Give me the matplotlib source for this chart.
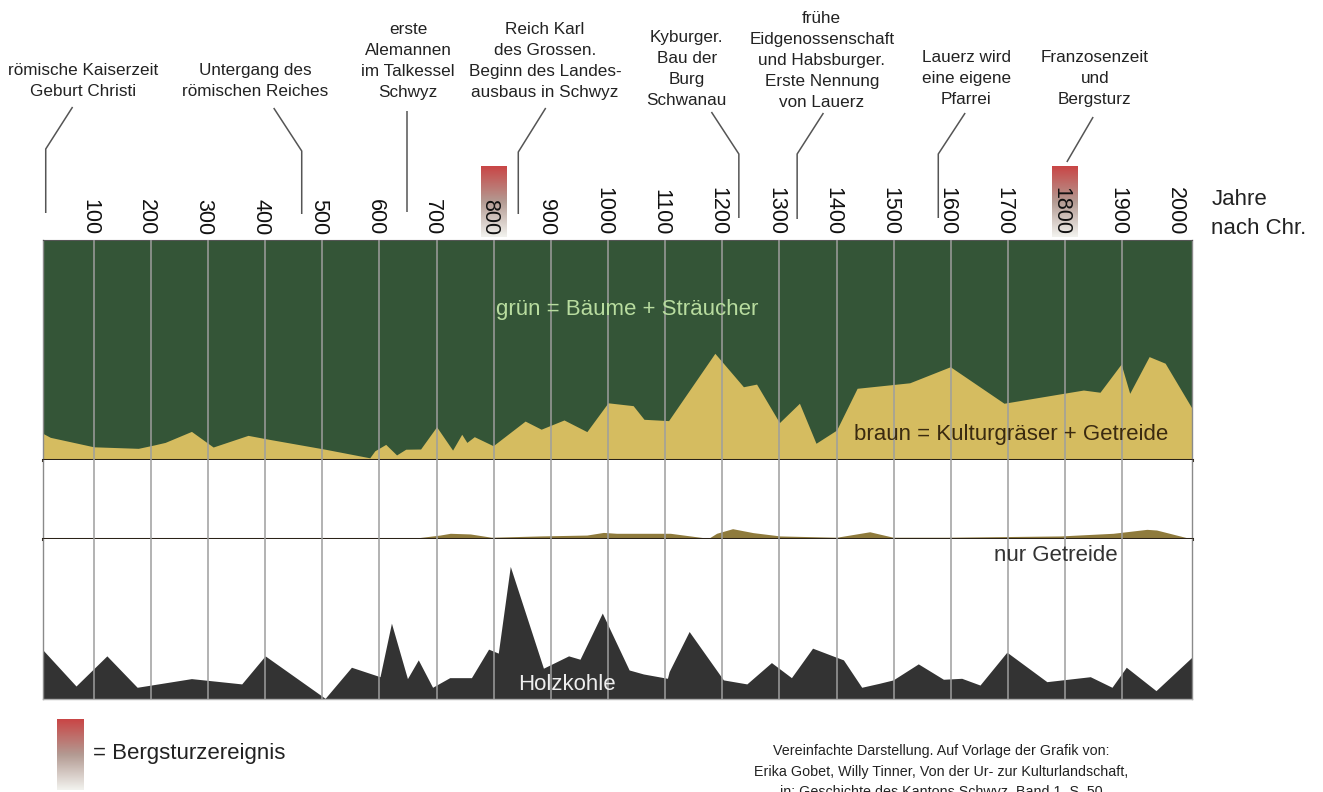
import numpy as np
import matplotlib
matplotlib.use('Agg')
import matplotlib.pyplot as plt
import matplotlib.transforms as mtransforms
from matplotlib.colors import LinearSegmentedColormap

plt.rcParams['font.family'] = ['Liberation Sans', 'DejaVu Sans']

# Kulturgräser + Getreide (braun), Anteil in %
braun_jahr = [11, 24, 100, 178, 205, 225, 271, 309, 370, 407, 505, 583, 592, 611, 630, 646, 672, 700, 728, 744,
              753, 766, 799, 855, 883, 923, 963, 1000, 1044, 1063, 1106, 1187, 1237, 1260, 1300, 1335, 1364, 1400,
              1436, 1528, 1599, 1693, 1797, 1832, 1861, 1898, 1913, 1947, 1975, 2022]
braun_wert = [12.1, 10.3, 6.0, 5.3, 6.8, 8.0, 13.0, 5.9, 11.2, 9.4, 4.9, 1.0, 4.2, 7.1, 2.3, 4.9, 5.0, 15.1, 4.5, 11.7,
              8.0, 10.6, 6.5, 17.7, 14.0, 18.2, 12.9, 26.0, 24.7, 18.5, 17.9, 48.5, 33.3, 34.5, 17.0, 25.8, 7.6, 13.6,
              32.6, 35.1, 42.4, 25.8, 30.3, 31.8, 30.8, 43.6, 30.3, 47.0, 44.0, 23.5]

# nur Getreide, Anteil in %
getreide_jahr = [11, 640, 665, 706, 724, 759, 796, 881, 963, 992, 1015, 1109, 1176, 1190, 1218, 1254, 1301, 1400,
                 1458, 1499, 1593, 1792, 1884, 1943, 1960, 2022]
getreide_wert = [0, 0, 0.5, 1.8, 2.6, 2.3, 0.8, 1.4, 1.8, 3.0, 2.6, 2.6, 0.3, 2.6, 4.7, 2.9, 1.4, 0.8,
                 3.3, 0.8, 0.8, 1.4, 2.6, 4.4, 4.1, 0]

# Holzkohle (relative Menge)
kohle_jahr = [11, 69, 123, 176, 271, 359, 400, 505, 551, 601, 621, 649, 668, 693, 723, 761, 791, 808, 829, 887,
              931, 951, 990, 1037, 1062, 1104, 1107, 1142, 1202, 1243, 1286, 1321, 1358, 1397, 1412, 1444, 1475,
              1499, 1543, 1587, 1619, 1651, 1698, 1768, 1844, 1882, 1907, 1959, 2022]
kohle_wert = [30.8, 8.3, 27.1, 7.5, 12.9, 9.6, 27.1, 0.6, 20.0, 14.1, 47.5, 12.9, 24.6, 7.5, 13.5, 13.5, 31.3, 28.8,
              82.9, 19.4, 27.1, 25.0, 53.8, 18.3, 15.8, 13.1, 17.3, 42.3, 12.1, 9.6, 22.9, 13.5, 31.9, 26.6, 24.6,
              7.5, 10.0, 12.1, 22.1, 12.5, 13.1, 8.9, 29.4, 11.0, 14.1, 7.5, 20.0, 5.4, 26.3]

jahrhunderte = list(range(100, 2001, 100))
bergsturz_jahre = [800, 1800]

ereignisse = [
    ("römische Kaiserzeit\nGeburt Christi", 81),
    ("Untergang des\nrömischen Reiches", 382),
    ("erste\nAlemannen\nim Talkessel\nSchwyz", 650),
    ("Reich Karl\ndes Grossen.\nBeginn des Landes-\nausbaus in Schwyz", 890),
    ("Kyburger.\nBau der\nBurg\nSchwanau", 1138),
    ("frühe\nEidgenossenschaft\nund Habsburger.\nErste Nennung\nvon Lauerz", 1374),
    ("Lauerz wird\neine eigene\nPfarrei", 1627),
    ("Franzosenzeit\nund\nBergsturz", 1852),
]
# Unterkante der Texte (Pixel von oben)
ereignis_unten = [99, 99, 100, 100, 108, 110, 107, 107]
# Hinweislinien: (jahr, pixel von oben)
hinweise = [
    [(63, 107), (16, 149), (16, 213)],
    [(415, 108), (464, 151), (464, 214)],
    [(648, 111), (648, 212)],
    [(891, 108), (843, 152), (843, 214)],
    [(1181, 112), (1229, 154), (1229, 218)],
    [(1377, 113), (1331, 154), (1331, 219)],
    [(1625, 113), (1578, 154), (1578, 218)],
    [(1849, 117), (1803, 162)],
]

W, H = 1323, 792
xlim = (10.7, 2021.5)


def box(x0, y0, x1, y1):
    return [x0 / W, 1 - y1 / H, (x1 - x0) / W, (y1 - y0) / H]


fig = plt.figure(figsize=(W / 100, H / 100), dpi=100)
ax1 = fig.add_axes(box(42.7, 240, 1191.7, 460), zorder=2)
ax2 = fig.add_axes(box(42.7, 460, 1191.7, 539), zorder=2)
ax3 = fig.add_axes(box(42.7, 539, 1191.7, 699.3), zorder=2)
top = fig.add_axes(box(42.7, 0, 1191.7, 792), zorder=1)
top.set_xlim(xlim)
top.set_ylim(H, 0)
top.axis('off')

gruen = '#345537'
gelb = '#D5BC60'
trenn = '#2a2218'

ax1.set_facecolor(gruen)
ax1.fill_between(braun_jahr, 0, braun_wert, color=gelb, lw=0)
ax1.set_ylim(0, 100)

ax2.fill_between(getreide_jahr, 0, getreide_wert, color='#8f7b3d', lw=0)
ax2.set_ylim(0, 36)

ax3.fill_between(kohle_jahr, 0, kohle_wert, color='#333333', lw=0)
ax3.set_ylim(0, 100)

for ax in (ax1, ax2, ax3):
    ax.set_xlim(xlim)
    ax.set_yticks([])
    for yr in jahrhunderte[:-1]:
        ax.axvline(yr, color='#9e9e9e', lw=1.1, zorder=3)
    for s in ('left', 'right'):
        ax.spines[s].set_color('#8a8a8a')
        ax.spines[s].set_linewidth(1.0)

ax1.spines['top'].set_color('#555555')
ax1.spines['top'].set_linewidth(0.8)
ax1.spines['bottom'].set_color(trenn)
ax1.spines['bottom'].set_linewidth(2.2)
ax2.spines['top'].set_visible(False)
ax2.spines['bottom'].set_color(trenn)
ax2.spines['bottom'].set_linewidth(2.2)
ax3.spines['top'].set_visible(False)
ax3.spines['bottom'].set_color('#b0b0b0')
ax3.spines['bottom'].set_linewidth(1.0)

ax1.set_xticks(jahrhunderte)
ax1.xaxis.tick_top()
ax1.tick_params(axis='x', length=0, pad=3.6, labelsize=15.5, labelrotation=-90, labelcolor='#111111')
# gedrehte Beschriftungen etwas nach links, damit sie auf der Linie sitzen
shift = mtransforms.ScaledTranslation(-4 / 100, 0, fig.dpi_scale_trans)
for lbl in ax1.xaxis.get_majorticklabels():
    lbl.set_transform(lbl.get_transform() + shift)
ax2.set_xticks([])
ax3.set_xticks([])

# Beschriftungen in den Feldern
ax1.text(804, 68.2, "grün = Bäume + Sträucher", color='#b8dc9f', fontsize=16, va='center', ha='left', zorder=4)
ax1.text(1980, 11.4, "braun = Kulturgräser + Getreide", color='#3a2a10', fontsize=16, va='center', ha='right', zorder=4)
ax3.text(1784, 90, "nur Getreide", color='#333333', fontsize=16, va='center', ha='center', zorder=4)
ax3.text(929, 9.4, "Holzkohle", color='#eeeeee', fontsize=16, va='center', ha='center', zorder=4)

# Bergsturz-Markierungen
cm = LinearSegmentedColormap.from_list('berg', ['#c94646', '#b39a92', '#f2f2ee'])
grad = np.linspace(0, 1, 100).reshape(-1, 1)
for yr in bergsturz_jahre:
    top.imshow(grad, cmap=cm, extent=[yr - 22.5, yr + 22.5, 237, 166], origin='upper', aspect='auto', zorder=1)

# Ereignisse
for (txt, xm), yb in zip(ereignisse, ereignis_unten):
    top.text(xm, yb, txt, ha='center', va='bottom', fontsize=12.3, color='#222222', linespacing=1.5)
for pts in hinweise:
    xs, ys = zip(*pts)
    top.plot(xs, ys, color='#555555', lw=1.1, solid_capstyle='butt')

top.text(2056, 214, "Jahre\nnach Chr.", ha='left', va='center', fontsize=16, color='#222222', linespacing=1.5)

# Legende
top.imshow(grad, cmap=cm, extent=[36, 82, 790, 719], origin='upper', aspect='auto', zorder=1)
top.text(98, 753, "= Bergsturzereignis", ha='left', va='center', fontsize=16, color='#222222')

top.text(1583, 744, "Vereinfachte Darstellung. Auf Vorlage der Grafik von:\n"
                    "Erika Gobet, Willy Tinner, Von der Ur- zur Kulturlandschaft,\n"
                    "in: Geschichte des Kantons Schwyz, Band 1, S. 50",
         ha='center', va='top', fontsize=10.3, color='#222222', linespacing=1.6)

top.set_xlim(xlim)
top.set_ylim(H, 0)

fig.savefig('out.png', dpi=100)
